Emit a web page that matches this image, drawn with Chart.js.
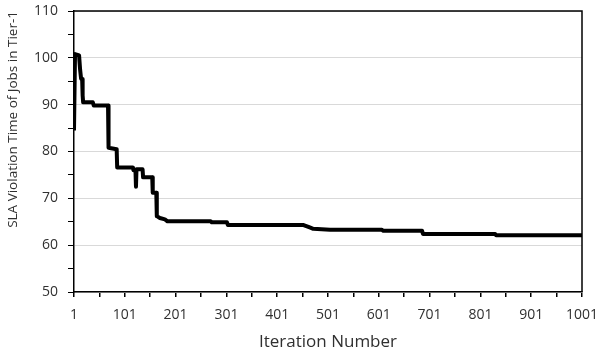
<!DOCTYPE html>
<html>
<head>
<meta charset="utf-8">
<script src="https://cdn.jsdelivr.net/npm/chart.js@4"></script>
<style>
  html, body { margin: 0; padding: 0; background: #fff; }
  canvas { display: block; }
</style>
</head>
<body>
<canvas id="myChart" width="599" height="356"></canvas>
<script>
// iteration numbers and SLA violation values
const iterations = [1, 3, 11, 13, 15, 17, 18, 19, 38, 40, 68, 69, 85, 86, 117, 118, 122, 123, 124, 136, 137, 155, 156, 163, 164, 170, 180, 185, 270, 272, 302, 304, 453, 465, 472, 505, 607, 609, 686, 688, 830, 832, 1001];
const slaValues = [84.5, 100.8, 100.5, 97.5, 95.5, 95.5, 92, 90.5, 90.5, 89.8, 89.8, 80.8, 80.5, 76.6, 76.6, 76, 76, 72.5, 76.2, 76.2, 74.5, 74.5, 71.2, 71.2, 66.2, 65.8, 65.5, 65.1, 65.1, 64.9, 64.9, 64.3, 64.3, 63.8, 63.5, 63.3, 63.3, 63.1, 63.1, 62.4, 62.4, 62.1, 62.1];

const xTicks = [];
for (let v = 1; v <= 1001; v += 50) xTicks.push(v);
const xLabels = ["1", "101", "201", "301", "401", "501", "601", "701", "801", "901", "1001"];

const fontFam = "'Open Sans', sans-serif";
const textColor = "#303030";

// top and right frame lines
const framePlugin = {
  id: "frame",
  afterDatasetsDraw(chart) {
    const a = chart.chartArea;
    const c = chart.ctx;
    c.save();
    c.strokeStyle = "#000";
    c.lineWidth = 1.5;
    c.beginPath();
    c.moveTo(a.left, a.top);
    c.lineTo(a.right, a.top);
    c.lineTo(a.right, a.bottom);
    c.stroke();
    c.restore();
  }
};

const ctx = document.getElementById("myChart").getContext("2d");
const myChart = new Chart(ctx, {
  type: "line",
  data: {
    datasets: [
      {
        data: iterations.map((x, i) => ({ x: x, y: slaValues[i] })),
        borderColor: "#000",
        borderWidth: 4,
        pointRadius: 0,
        tension: 0,
        fill: false,
        borderJoinStyle: "round"
      }
    ]
  },
  plugins: [framePlugin],
  options: {
    responsive: false,
    animation: false,
    maintainAspectRatio: false,
    layout: { padding: { top: 11, right: 17, left: 0, bottom: 0 } },
    plugins: { legend: { display: false }, tooltip: { enabled: false } },
    scales: {
      x: {
        type: "linear",
        min: 1,
        max: 1001,
        afterBuildTicks: (scale) => { scale.ticks = xTicks.map(v => ({ value: v })); },
        afterFit: (scale) => { scale.height = 64; scale.paddingLeft = 0; scale.paddingRight = 0; },
        border: { color: "#000", width: 1.5 },
        grid: { drawOnChartArea: false, drawTicks: true, tickLength: 5, color: "#000", lineWidth: 1.5 },
        ticks: {
          autoSkip: false,
          maxRotation: 0,
          padding: 10,
          color: textColor,
          font: { family: fontFam, size: 14 },
          callback: (v) => ((v - 1) % 100 === 0 ? xLabels[(v - 1) / 100] : "")
        },
        title: {
          display: true,
          text: "Iteration Number",
          color: textColor,
          font: { family: fontFam, size: 17 },
          padding: { top: 4, bottom: 4 }
        }
      },
      y: {
        min: 50,
        max: 110,
        afterFit: (scale) => { scale.width = 74; scale.paddingTop = 0; scale.paddingBottom = 0; },
        border: { color: "#000", width: 1.5 },
        grid: {
          color: (c) => (c.tick && c.tick.value % 10 === 0 ? "#d9d9d9" : "rgba(0,0,0,0)"),
          tickColor: "#000",
          tickLength: 6,
          lineWidth: 1
        },
        ticks: {
          stepSize: 5,
          autoSkip: false,
          padding: 10,
          color: textColor,
          font: { family: fontFam, size: 14 },
          callback: (v) => (v % 10 === 0 ? v : "")
        },
        title: {
          display: true,
          text: "SLA Violation Time of Jobs in Tier-1",
          align: "end",
          color: textColor,
          font: { family: fontFam, size: 13.5 },
          padding: { top: 5, bottom: 4 }
        }
      }
    }
  }
});
</script>
</body>
</html>
